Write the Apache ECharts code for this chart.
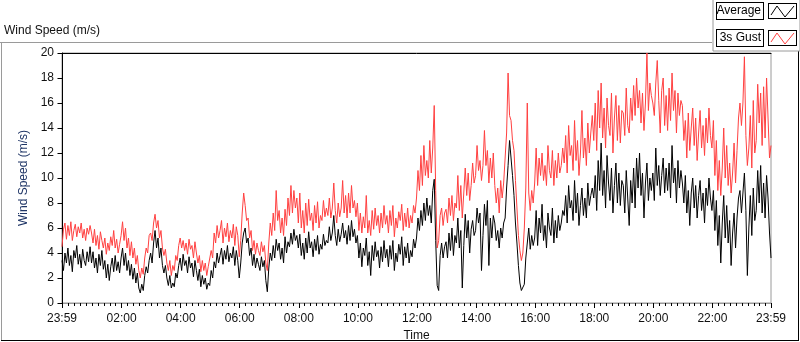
<!DOCTYPE html>
<html>
<head>
<meta charset="utf-8">
<script src="https://cdn.jsdelivr.net/npm/echarts@6/dist/echarts.min.js"></script>
<style>
  html, body { margin: 0; padding: 0; background: #fff; }
  #main { width: 800px; height: 342px; }
</style>
</head>
<body>
<div id="main"></div>
<script>
// samples every 3 minutes, first one at 23:59 of the previous day
var startMinute = -1;
var stepMinutes = 3;

var average = [
  3.4,2.6,4.0,3.2,4.4,3.0,3.8,2.5,4.2,3.6,4.6,3.1,3.9,2.8,4.3,3.4,3.0,4.1,3.3,4.5,
  3.2,4.1,2.8,3.6,2.4,3.9,3.0,4.2,2.7,3.4,2.0,3.1,1.8,2.9,3.6,2.5,3.8,2.6,3.3,2.4,
  3.6,4.4,3.0,4.0,2.6,3.4,2.2,3.1,1.9,2.8,1.6,2.4,1.2,0.8,1.5,1.0,2.2,2.9,2.4,3.4,
  4.0,3.2,4.8,5.8,4.4,5.2,3.6,4.4,3.0,2.4,3.0,2.0,1.4,2.2,1.2,1.6,1.3,2.4,2.0,3.0,
  3.6,2.6,3.9,3.0,3.4,2.4,3.7,2.8,3.2,2.1,3.4,2.6,1.8,2.7,1.3,2.2,1.5,2.0,1.1,1.6,
  1.4,2.6,2.0,3.3,2.8,4.0,3.2,3.8,4.4,3.1,4.2,3.5,4.6,3.3,4.0,3.6,4.5,3.0,4.2,3.4,
  2.0,3.2,4.8,5.6,6.0,4.8,5.2,3.8,4.4,3.0,3.9,2.8,3.6,3.1,2.6,3.7,2.9,3.4,1.8,0.9,
  2.8,4.0,3.4,4.6,3.6,5.1,4.2,4.8,3.5,4.4,3.2,5.3,4.0,4.9,4.5,5.6,4.7,5.9,5.0,5.4,
  4.4,5.5,3.8,4.8,3.5,5.2,4.0,5.7,4.4,4.9,3.7,5.1,4.2,5.4,3.9,4.7,4.3,5.5,4.6,5.0,
  4.8,6.1,5.0,5.6,7.0,5.4,4.6,5.9,4.9,5.5,6.4,5.2,5.8,4.7,6.2,5.0,6.6,5.3,5.9,4.8,
  5.4,3.6,4.8,2.9,4.4,3.8,5.2,3.0,4.1,2.2,4.6,3.4,4.9,3.7,4.2,2.8,4.5,3.3,5.0,3.6,
  4.3,2.9,4.6,3.5,5.0,2.6,4.0,3.3,4.7,3.9,5.3,3.0,4.5,3.6,4.8,3.2,4.2,3.7,5.1,4.4,
  5.2,6.8,5.8,7.4,6.2,8.0,6.6,8.4,7.0,7.8,6.4,9.0,9.9,5.0,1.4,1.0,3.8,4.8,3.6,4.5,
  4.9,3.6,5.6,4.2,6.0,3.8,5.4,4.8,6.8,4.4,5.8,1.2,4.6,7.1,5.2,6.6,4.0,5.9,6.6,5.4,
  5.8,7.6,6.4,7.2,2.6,5.4,7.9,6.2,8.2,3.0,6.8,5.2,7.0,6.4,5.0,5.8,4.4,6.0,5.2,6.4,
  6.8,9.2,11.0,13.0,11.6,10.2,8.6,6.4,4.8,3.0,1.6,1.0,0.9,1.5,3.6,4.8,6.0,4.3,5.4,4.6,
  5.2,7.4,4.6,6.8,5.6,7.9,5.0,6.2,4.4,7.2,6.0,5.4,7.6,4.8,6.6,5.2,7.0,5.8,6.4,7.4,
  7.0,8.6,6.4,9.4,7.6,8.2,6.6,9.8,7.2,8.8,6.2,7.8,9.2,7.0,8.4,6.8,9.6,7.8,8.6,9.2,
  8.4,10.2,7.4,11.4,9.0,12.8,8.6,10.6,7.6,11.8,9.6,8.2,10.8,7.2,9.4,11.2,8.0,10.4,7.8,9.8,
  9.4,7.2,10.6,8.4,6.2,9.8,8.0,10.8,7.6,11.6,9.2,12.0,8.6,10.4,6.8,9.6,11.2,8.2,10.0,9.0,
  10.4,8.2,12.4,9.4,11.0,8.6,10.2,11.6,8.8,10.8,9.0,11.2,8.4,12.6,9.6,10.8,8.0,11.4,9.2,10.6,
  9.6,8.0,10.2,7.2,9.0,6.2,8.8,10.0,7.6,9.4,6.8,8.6,9.8,7.4,8.8,6.4,9.2,7.8,10.0,8.4,
  7.4,9.0,5.8,8.2,4.6,7.0,3.2,6.4,8.6,5.2,7.8,4.8,6.6,3.0,5.6,7.2,4.4,6.8,8.4,9.0,
  7.2,8.8,10.4,7.4,2.2,6.0,8.6,5.4,9.2,6.6,7.4,10.6,8.0,11.0,7.2,9.6,6.8,10.2,8.4,5.6,
  3.6
];

var gust = [
  4.5,5.9,6.4,5.1,6.2,5.4,6.5,5.0,5.8,6.3,5.3,6.1,5.6,6.4,5.2,5.9,5.0,6.0,5.5,6.2,
  5.6,4.8,5.9,4.6,5.4,4.3,5.7,5.0,4.4,5.2,3.9,4.8,4.2,5.3,4.6,5.8,4.4,5.1,4.0,4.7,
  5.4,6.5,5.0,6.0,4.4,5.2,3.8,4.9,3.6,4.4,3.1,3.8,2.6,2.0,2.8,2.3,3.6,4.4,4.0,5.4,
  5.6,5.0,6.4,7.1,6.0,6.6,5.2,5.8,4.4,3.8,4.3,3.2,2.6,3.4,2.2,3.0,2.6,3.8,3.4,4.6,
  5.2,4.4,5.0,4.2,4.8,3.9,5.1,4.3,4.6,3.6,4.9,4.0,3.2,3.8,2.5,3.4,2.6,3.2,2.2,2.9,
  2.8,4.2,3.6,5.6,4.8,6.2,5.2,5.8,6.6,4.8,6.0,5.3,6.4,4.9,5.8,5.2,6.3,4.6,6.1,5.4,
  3.7,5.0,7.2,8.8,7.8,6.6,6.8,5.2,5.8,4.2,5.0,3.9,4.8,4.2,3.8,4.9,4.1,4.6,3.2,2.6,
  4.8,6.4,5.4,7.2,5.8,9.0,6.6,7.4,5.6,6.8,5.4,7.5,6.2,8.4,7.0,9.4,7.2,9.0,7.6,8.4,
  6.4,8.8,6.0,7.4,5.6,8.0,6.2,8.3,6.6,7.2,5.8,7.8,6.4,8.1,6.0,7.0,6.6,8.2,6.9,7.6,
  7.0,8.4,6.8,7.6,9.6,7.4,6.4,8.0,6.9,7.6,9.8,7.2,8.6,6.8,8.8,7.2,9.4,7.6,8.2,6.9,
  8.0,5.8,7.2,5.6,6.9,6.0,8.6,5.6,6.6,5.4,7.4,5.9,7.6,6.2,7.0,5.6,7.2,6.0,7.8,6.3,
  7.0,5.6,7.4,6.2,7.8,5.3,6.8,6.0,7.3,6.6,7.9,5.8,7.2,6.1,7.6,6.0,7.0,6.4,7.8,7.2,
  8.4,10.6,9.0,11.8,9.4,12.6,10.2,11.4,10.0,13.0,10.4,12.4,15.8,9.0,4.4,5.0,7.0,7.6,6.2,7.2,
  7.5,6.4,8.4,7.0,8.6,6.6,8.0,7.6,10.2,7.4,9.4,6.8,8.8,10.8,8.6,10.4,8.2,9.4,11.2,9.6,
  10.2,12.6,10.6,11.4,9.8,11.0,13.8,11.0,12.2,9.6,11.6,10.0,12.0,9.4,8.0,9.2,7.2,9.8,8.4,9.6,
  9.6,13.6,18.4,15.0,14.6,13.0,12.2,9.8,7.6,5.4,4.2,3.4,4.0,6.0,9.2,16.0,8.8,7.4,9.0,8.0,
  9.6,12.4,9.4,11.6,10.2,12.0,9.8,11.0,9.4,12.6,10.6,10.0,12.2,9.4,11.4,10.0,12.0,10.4,11.0,12.4,
  11.2,13.4,10.4,14.2,11.8,12.6,10.6,14.6,11.4,13.0,10.2,12.0,15.4,11.6,13.2,11.0,14.4,12.0,13.6,15.0,
  13.0,16.0,12.2,17.0,14.0,17.6,13.2,15.6,12.4,16.4,14.2,13.4,16.8,12.0,14.8,16.6,13.0,15.8,12.8,15.4,
  15.2,13.4,17.2,14.2,13.6,16.4,14.6,17.4,15.0,18.0,15.6,17.0,14.4,16.8,13.8,16.0,20.0,15.4,17.6,16.6,
  16.0,15.0,17.6,19.4,16.2,13.6,17.0,18.0,14.2,16.6,13.8,17.2,14.6,18.4,15.4,17.0,13.6,16.8,15.0,16.2,
  15.8,13.0,14.6,11.6,15.2,12.2,14.0,15.6,12.6,14.8,11.4,13.6,15.4,12.4,14.2,11.8,14.8,12.8,15.6,13.4,
  12.4,14.6,10.2,13.0,9.0,11.4,8.6,10.8,14.0,10.0,12.6,9.4,11.2,8.8,10.4,12.8,9.6,12.2,14.8,16.0,
  14.2,16.0,19.7,13.4,11.0,12.4,15.0,10.8,16.2,12.0,13.0,17.5,14.4,16.8,12.6,17.3,13.2,18.0,14.8,11.6,
  12.6
];

// x axis labels (minutes after midnight)
var timeTicks = [-1, 120, 240, 360, 480, 600, 720, 840, 960, 1080, 1200, 1320, 1439];
var timeLabels = ['23:59', '02:00', '04:00', '06:00', '08:00', '10:00', '12:00',
                  '14:00', '16:00', '18:00', '20:00', '22:00', '23:59'];

var minorTicks = [];
for (var m = 12; m < 1439; m += 12) {
  if (m % 120 !== 0) minorTicks.push(m);
}

function toPairs(arr) {
  return arr.map(function (v, i) { return [startMinute + i * stepMinutes, v]; });
}

function legendIcon(color) {
  var svg = '<svg xmlns="http://www.w3.org/2000/svg" width="29" height="16" viewBox="0 0 29 16">' +
    '<rect x="0.5" y="0.5" width="28" height="15" fill="#fff" stroke="#000"/>' +
    '<polyline points="3,12 9,3 17,14 26,3" fill="none" stroke="' + color + '" stroke-width="1"/></svg>';
  return 'image://data:image/svg+xml;charset=utf-8,' + encodeURIComponent(svg);
}

var font = 'Liberation Sans, Arial, sans-serif';
var chart = echarts.init(document.getElementById('main'));

chart.setOption({
  animation: false,
  backgroundColor: '#fff',
  textStyle: { fontFamily: font },
  title: {
    text: 'Wind Speed (m/s)',
    left: 4, top: 25, padding: 0,
    textStyle: { fontSize: 12, fontWeight: 'normal', color: '#111', fontFamily: font }
  },
  legend: {
    orient: 'vertical',
    right: 0, top: -2,
    align: 'right',
    padding: [4, 3, 4, 3],
    itemGap: 9,
    itemWidth: 29, itemHeight: 16,
    backgroundColor: '#fff',
    borderColor: '#9a9a9a', borderWidth: 1,
    selectedMode: false,
    textStyle: {
      fontSize: 12, color: '#000', fontFamily: font,
      backgroundColor: '#fff', borderColor: '#000', borderWidth: 1,
      padding: [1, 2], width: 42, height: 14, lineHeight: 14
    },
    data: [
      { name: 'Average', icon: legendIcon('#000') },
      { name: '3s Gust', icon: legendIcon('#ff4040') }
    ]
  },
  grid: {
    left: 62, right: 29, top: 53, bottom: 39,
    outerBoundsMode: 'none', containLabel: false,
    show: true, borderColor: '#9a9a9a', borderWidth: 1, backgroundColor: '#fff'
  },
  xAxis: [
    {
      type: 'value', min: -1, max: 1439,
      name: 'Time', nameLocation: 'middle', nameGap: 25,
      nameTextStyle: { fontSize: 12, color: '#111' },
      axisLine: { lineStyle: { color: '#9a9a9a' } },
      axisTick: { customValues: timeTicks, length: 5, lineStyle: { color: '#000' } },
      axisLabel: {
        customValues: timeTicks, margin: 10, fontSize: 12, color: '#111',
        formatter: function (v) { return timeLabels[timeTicks.indexOf(v)]; }
      },
      splitLine: { show: false }
    },
    {
      type: 'value', min: -1, max: 1439, position: 'bottom',
      axisLine: { show: false },
      axisTick: { customValues: minorTicks, length: 3, lineStyle: { color: '#000' } },
      axisLabel: { show: false },
      splitLine: { show: false }
    },
    {
      type: 'value', min: -1, max: 1439, position: 'top',
      axisLine: { lineStyle: { color: '#000' } },
      axisTick: { show: false },
      axisLabel: { show: false },
      splitLine: { show: false }
    }
  ],
  yAxis: {
    type: 'value', min: 0, max: 20, interval: 2,
    name: 'Wind Speed (m/s)', nameLocation: 'middle', nameGap: 20,
    nameTextStyle: { fontSize: 12, color: '#1f3566' },
    axisLine: { show: true, lineStyle: { color: '#000' } },
    axisTick: { show: true, length: 5, lineStyle: { color: '#000' } },
    axisLabel: { margin: 8, fontSize: 12, color: '#111' },
    splitLine: { show: false }
  },
  series: [
    {
      name: '3s Gust', type: 'line', xAxisIndex: 0,
      data: toPairs(gust), showSymbol: false, symbol: 'none',
      lineStyle: { color: '#ff4040', width: 1 }, itemStyle: { color: '#ff4040' }
    },
    {
      name: 'Average', type: 'line', xAxisIndex: 0,
      data: toPairs(average), showSymbol: false, symbol: 'none',
      lineStyle: { color: '#000', width: 1 }, itemStyle: { color: '#000' }
    }
  ],
  graphic: [
    { type: 'line', shape: { x1: 0, y1: 42.5, x2: 712, y2: 42.5 }, style: { stroke: '#9a9a9a', lineWidth: 1 } },
    { type: 'line', shape: { x1: 1.5, y1: 42, x2: 1.5, y2: 340 }, style: { stroke: '#9a9a9a', lineWidth: 1 } },
    { type: 'line', shape: { x1: 1, y1: 340.5, x2: 799, y2: 340.5 }, style: { stroke: '#000', lineWidth: 1 } },
    { type: 'line', shape: { x1: 798.5, y1: 48, x2: 798.5, y2: 341 }, style: { stroke: '#000', lineWidth: 1 } }
  ]
});
</script>
</body>
</html>
